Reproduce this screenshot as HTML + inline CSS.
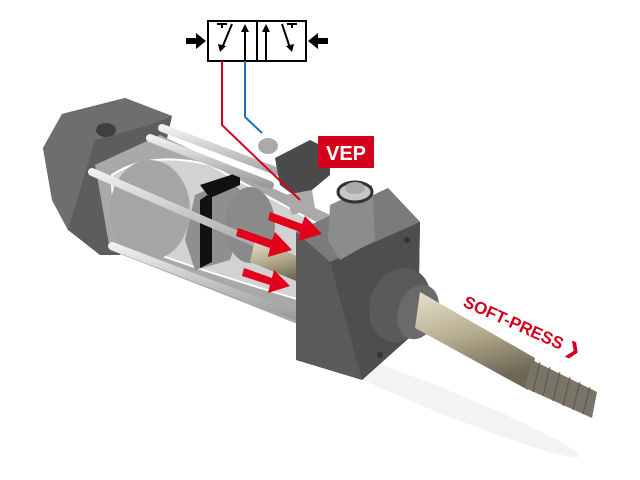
<!DOCTYPE html>
<html><head><meta charset="utf-8"><style>html,body{margin:0;padding:0;background:#fff;width:640px;height:480px;overflow:hidden}</style></head>
<body>
<svg width="640" height="480" viewBox="0 0 640 480" xmlns="http://www.w3.org/2000/svg">
<defs>
<linearGradient id="rod" x1="0" y1="0" x2="0.3" y2="1"><stop offset="0" stop-color="#e6e0cc"/><stop offset="0.5" stop-color="#b8ae92"/><stop offset="1" stop-color="#6e6654"/></linearGradient>
<linearGradient id="bar" x1="0" y1="0" x2="0" y2="1"><stop offset="0" stop-color="#f0f0f0"/><stop offset="1" stop-color="#9a9a9a"/></linearGradient>
</defs>
<!-- shadow -->
<ellipse cx="440" cy="400" rx="150" ry="12" fill="#f3f3f3" transform="rotate(22 440 400)"/>
<!-- rear cap -->
<polygon points="43,148 62,114 125,98 172,116 160,170 120,255 100,255 68,230 52,200" fill="#5d5d5d"/>
<polygon points="43,148 62,114 125,98 172,116 150,125 95,140 68,230 52,200" fill="#6e6e6e"/>
<ellipse cx="106" cy="130" rx="10" ry="7" fill="#3f3f3f"/>
<!-- barrel -->
<polygon points="95,165 160,135 330,215 325,335 250,305 110,250" fill="#a9a9a9"/>
<path d="M112,175 Q150,150 210,165 L320,225 L300,300 Q200,270 160,255 Q110,240 112,175Z" fill="#d2d2d2" stroke="#fff" stroke-width="2"/>
<ellipse cx="150" cy="210" rx="40" ry="50" fill="#a5a5a5"/>
<!-- piston -->
<polygon points="195,195 230,180 250,200 230,260 195,270 185,240" fill="#8f8f8f"/>
<path d="M200,200 L212,192 L212,262 L200,268Z" fill="#111"/>
<path d="M200,185 L240,172 L240,185 L210,198Z" fill="#111"/>
<ellipse cx="250" cy="225" rx="25" ry="38" fill="#8a8a8a"/>
<!-- tie rods -->
<g stroke="url(#bar)" stroke-linecap="round" stroke-width="8">
<line x1="162" y1="128" x2="300" y2="180"/>
<line x1="92" y1="172" x2="300" y2="262"/>
<line x1="112" y1="246" x2="300" y2="318"/>
<line x1="150" y1="138" x2="270" y2="185"/>
</g>
<!-- inner rod -->
<polygon points="255,240 310,262 306,285 250,262" fill="url(#rod)"/>
<!-- front cap -->
<polygon points="296,232 388,188 420,222 418,330 362,380 296,360" fill="#5a5a5a"/>
<polygon points="296,232 388,188 420,222 330,262" fill="#7b7b7b"/>
<polygon points="330,262 420,222 418,330 362,380" fill="#4e4e4e"/>
<circle cx="407" cy="240" r="3" fill="#333"/><circle cx="380" cy="355" r="3" fill="#333"/>
<!-- gland -->
<ellipse cx="400" cy="305" rx="30" ry="38" fill="#5a5a5a" transform="rotate(20 400 305)"/>
<ellipse cx="418" cy="312" rx="20" ry="28" fill="#6a6a6a" transform="rotate(20 418 312)"/>
<!-- rod -->
<polygon points="420,292 535,358 528,390 415,328" fill="url(#rod)"/>
<polygon points="532,360 597,392 592,418 525,388" fill="#7a7466"/>
<g stroke="#555" stroke-width="1">
<line x1="540" y1="362" x2="533" y2="392"/><line x1="550" y1="367" x2="543" y2="396"/><line x1="560" y1="372" x2="553" y2="401"/><line x1="570" y1="377" x2="563" y2="406"/><line x1="580" y1="382" x2="573" y2="410"/><line x1="590" y1="387" x2="583" y2="414"/>
</g>
<!-- port fitting -->
<polygon points="275,158 310,140 330,150 330,175 300,200 280,185" fill="#4a4a4a"/>
<ellipse cx="268" cy="146" rx="10" ry="8" fill="#aaa"/>
<polygon points="285,195 312,190 315,208 292,215" fill="#aaa"/>
<polygon points="330,205 372,185 375,240 340,260 328,240" fill="#8c8c8c"/>
<ellipse cx="355" cy="192" rx="17" ry="10" fill="#c7c7c7" stroke="#333" stroke-width="3"/>
<ellipse cx="355" cy="188" rx="10" ry="6" fill="#aaa"/>
<!-- red arrows -->
<g fill="#e3001b">
<polygon points="238,228 272,240 275,232 292,250 268,257 270,248 236,236"/>
<polygon points="270,212 302,224 305,216 322,234 298,241 300,232 268,220"/>
<polygon points="244,268 272,278 274,270 290,286 268,293 270,285 242,276"/>
</g>
<!-- valve symbol -->
<g stroke="#000" stroke-width="2" fill="none">
<rect x="208" y="21" width="98" height="40" fill="#fff"/>
<line x1="257" y1="21" x2="257" y2="61"/>
<line x1="222" y1="48" x2="232" y2="24"/>
<line x1="245" y1="61" x2="245" y2="28"/>
<line x1="266" y1="61" x2="266" y2="28"/>
<line x1="282" y1="24" x2="290" y2="48"/>
<line x1="217" y1="24" x2="227" y2="24"/><line x1="222" y1="24" x2="222" y2="28"/>
<line x1="287" y1="24" x2="297" y2="24"/><line x1="292" y1="24" x2="292" y2="28"/>
</g>
<g fill="#000">
<polygon points="220,52 218,44 226,46"/>
<polygon points="245,24 241,32 249,32"/><polygon points="266,24 262,32 270,32"/>
<polygon points="292,52 286,46 294,44"/>
<rect x="186" y="38" width="10" height="6"/><polygon points="196,33 206,41 196,49"/>
<rect x="318" y="38" width="10" height="6"/><polygon points="318,33 308,41 318,49"/>
</g>
<polyline points="222,61 222,125 300,200" fill="none" stroke="#d6001c" stroke-width="2"/>
<polyline points="245,61 245,117 262,133" fill="none" stroke="#1a6fb5" stroke-width="2"/>
<!-- VEP label -->
<rect x="318" y="136" width="56" height="32" fill="#d6001c"/>
<text x="346" y="160" text-anchor="middle" font-family="Liberation Sans, sans-serif" font-weight="bold" font-size="20" fill="#fff">VEP</text>
<!-- SOFT-PRESS -->
<text x="462" y="306" transform="rotate(24 462 306)" font-family="Liberation Sans, sans-serif" font-weight="bold" font-size="17" fill="#d6001c">SOFT-PRESS ❯</text>
</svg>
</body></html>
